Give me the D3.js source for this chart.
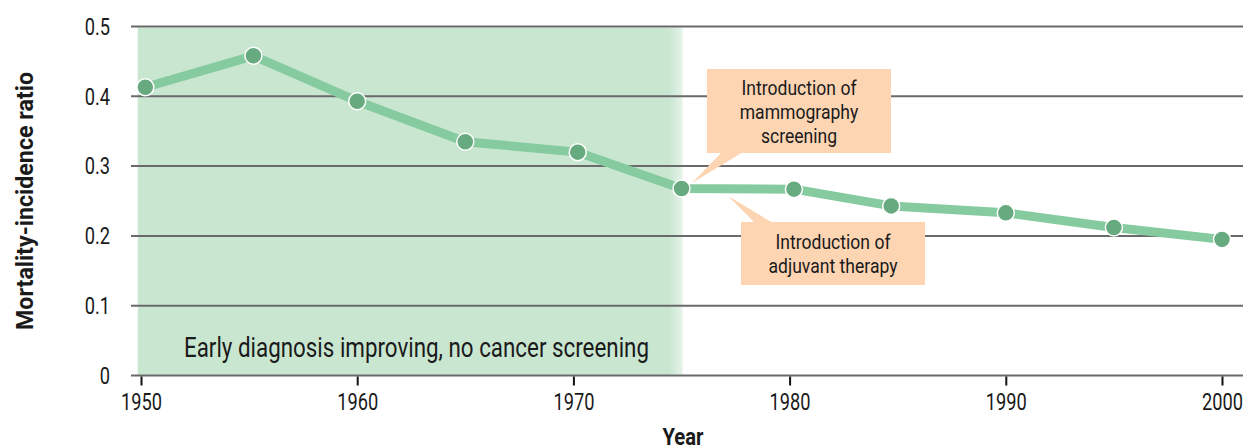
<!DOCTYPE html>
<html>
<head>
<meta charset="utf-8">
<script src="https://cdn.jsdelivr.net/npm/d3@7"></script>
<style>
  html, body { margin: 0; padding: 0; background: #fff; }
  svg { display: block; }
  text { font-family: "Roboto", "Liberation Sans", sans-serif; fill: #1a1a1a; }
</style>
</head>
<body>
<svg id="chart" width="1243" height="446"></svg>
<script>
// ---- data ----
const years  = [1950.2, 1955.2, 1960, 1965, 1970.2, 1975, 1980.2, 1984.7, 1990, 1995, 2000];
const ratios = [0.413, 0.458, 0.393, 0.335, 0.320, 0.268, 0.267, 0.243, 0.233, 0.212, 0.195];
const xTicks = [1950, 1960, 1970, 1980, 1990, 2000];
const yTicks = [0, 0.1, 0.2, 0.3, 0.4, 0.5];
const eraRange = [1949.85, 1975.05];
const eraLabel = "Early diagnosis improving, no cancer screening";
const noteScreening = ["Introduction of", "mammography", "screening"];
const noteAdjuvant = ["Introduction of", "adjuvant therapy"];
const xTitle = "Year";
const yTitle = "Mortality-incidence ratio";

const svg = d3.select("#chart");
const x = d3.scaleLinear().domain([1950, 2000]).range([141, 1222]);
const y = d3.scaleLinear().domain([0, 0.5]).range([375.5, 26.5]);
const gridLeft = 131, gridRight = 1243;

// condense text horizontally (reference uses a condensed typeface)
function condense(sel, k) {
  sel.each(function () {
    const w = this.getComputedTextLength();
    d3.select(this).attr("textLength", w * k).attr("lengthAdjust", "spacingAndGlyphs");
  });
}
function kFor(sample, size, weight, target) {
  const t = svg.append("text").attr("font-size", size).attr("font-weight", weight).text(sample);
  const w = t.node().getComputedTextLength();
  t.remove();
  return target / w;
}

// gradient for era band
const defs = svg.append("defs");
const grad = defs.append("linearGradient").attr("id", "eraGrad").attr("x1", "0").attr("x2", "1").attr("y1", "0").attr("y2", "0");
grad.append("stop").attr("offset", "0").attr("stop-color", "#c9e6d1");
grad.append("stop").attr("offset", "0.975").attr("stop-color", "#c9e6d1");
grad.append("stop").attr("offset", "1").attr("stop-color", "#e6f3ea");

svg.append("rect")
  .attr("x", x(eraRange[0])).attr("y", y(0.5) + 1)
  .attr("width", x(eraRange[1]) - x(eraRange[0]))
  .attr("height", y(0) - y(0.5) - 1)
  .attr("fill", "url(#eraGrad)");

// gridlines
svg.append("g").selectAll("line").data(yTicks).join("line")
  .attr("x1", gridLeft).attr("x2", gridRight)
  .attr("y1", d => y(d)).attr("y2", d => y(d))
  .attr("stroke", "#6a6a6a").attr("stroke-width", 2);

const kTick = kFor("1950", 23, "normal", 41);

// y tick labels
const yl = svg.append("g").selectAll("text").data(yTicks).join("text")
  .attr("x", 110).attr("y", d => y(d)).attr("dy", "0.36em")
  .attr("text-anchor", "end").attr("font-size", 23)
  .text(d => d === 0 ? "0" : d3.format(".1f")(d));
condense(yl, kTick);

// x axis ticks
const xAxis = d3.axisBottom(x).tickValues(xTicks).tickFormat(d3.format("d")).tickSize(9).tickPadding(8);
const gx = svg.append("g").attr("transform", `translate(0,${y(0) + 1})`).call(xAxis);
gx.select(".domain").remove();
gx.selectAll(".tick line").attr("stroke", "#111").attr("stroke-width", 2);
const xl = gx.selectAll(".tick text").attr("font-size", 23).attr("font-family", null).style("fill", "#1a1a1a");
condense(xl, kTick);

// era label
const era = svg.append("text")
  .attr("x", 184).attr("y", 357)
  .attr("font-size", 28)
  .text(eraLabel);
condense(era, 465 / era.node().getComputedTextLength());

// annotation boxes
const peach = "#fdd5b3";
function note(lines, box, tip, base, firstWidth) {
  const g = svg.append("g");
  g.append("path")
    .attr("d", `M${tip[0]},${tip[1]}L${base[0][0]},${base[0][1]}L${base[1][0]},${base[1][1]}Z`)
    .attr("fill", peach);
  g.append("rect").attr("x", box[0]).attr("y", box[1]).attr("width", box[2]).attr("height", box[3]).attr("fill", peach);
  const cx = box[0] + box[2] / 2;
  const lh = 24;
  const startY = box[1] + box[3] / 2 - (lines.length - 1) * lh / 2;
  const t = g.selectAll("text").data(lines).join("text")
    .attr("x", cx).attr("y", (d, i) => startY + i * lh).attr("dy", "0.36em")
    .attr("text-anchor", "middle").attr("font-size", 21)
    .text(d => d);
  condense(t, kFor("Introduction of", 21, "normal", 115));
}
note(noteScreening, [707, 69, 184, 84], [692, 183], [[722, 152], [743, 152]]);
note(noteAdjuvant, [741, 222, 184, 63], [728, 196], [[755, 223], [773, 223]]);

// line
const pts = years.map((yr, i) => [yr, ratios[i]]);
svg.append("path")
  .datum(pts)
  .attr("fill", "none").attr("stroke", "#86cba0").attr("stroke-width", 9)
  .attr("stroke-linejoin", "round")
  .attr("d", d3.line().x(d => x(d[0])).y(d => y(d[1])));

svg.append("g").selectAll("circle").data(pts).join("circle")
  .attr("cx", d => x(d[0])).attr("cy", d => y(d[1])).attr("r", 8.5)
  .attr("fill", "#67aa80").attr("stroke", "#ffffff").attr("stroke-width", 1.5);

// axis titles
const xt = svg.append("text")
  .attr("x", 683).attr("y", 445)
  .attr("text-anchor", "middle").attr("font-size", 24).attr("font-weight", "bold")
  .text(xTitle);
condense(xt, 41 / xt.node().getComputedTextLength());
const ytl = svg.append("text")
  .attr("transform", "translate(33,201) rotate(-90)")
  .attr("text-anchor", "middle").attr("font-size", 24).attr("font-weight", "bold")
  .text(yTitle);
condense(ytl, 258 / ytl.node().getComputedTextLength());
</script>
</body>
</html>
